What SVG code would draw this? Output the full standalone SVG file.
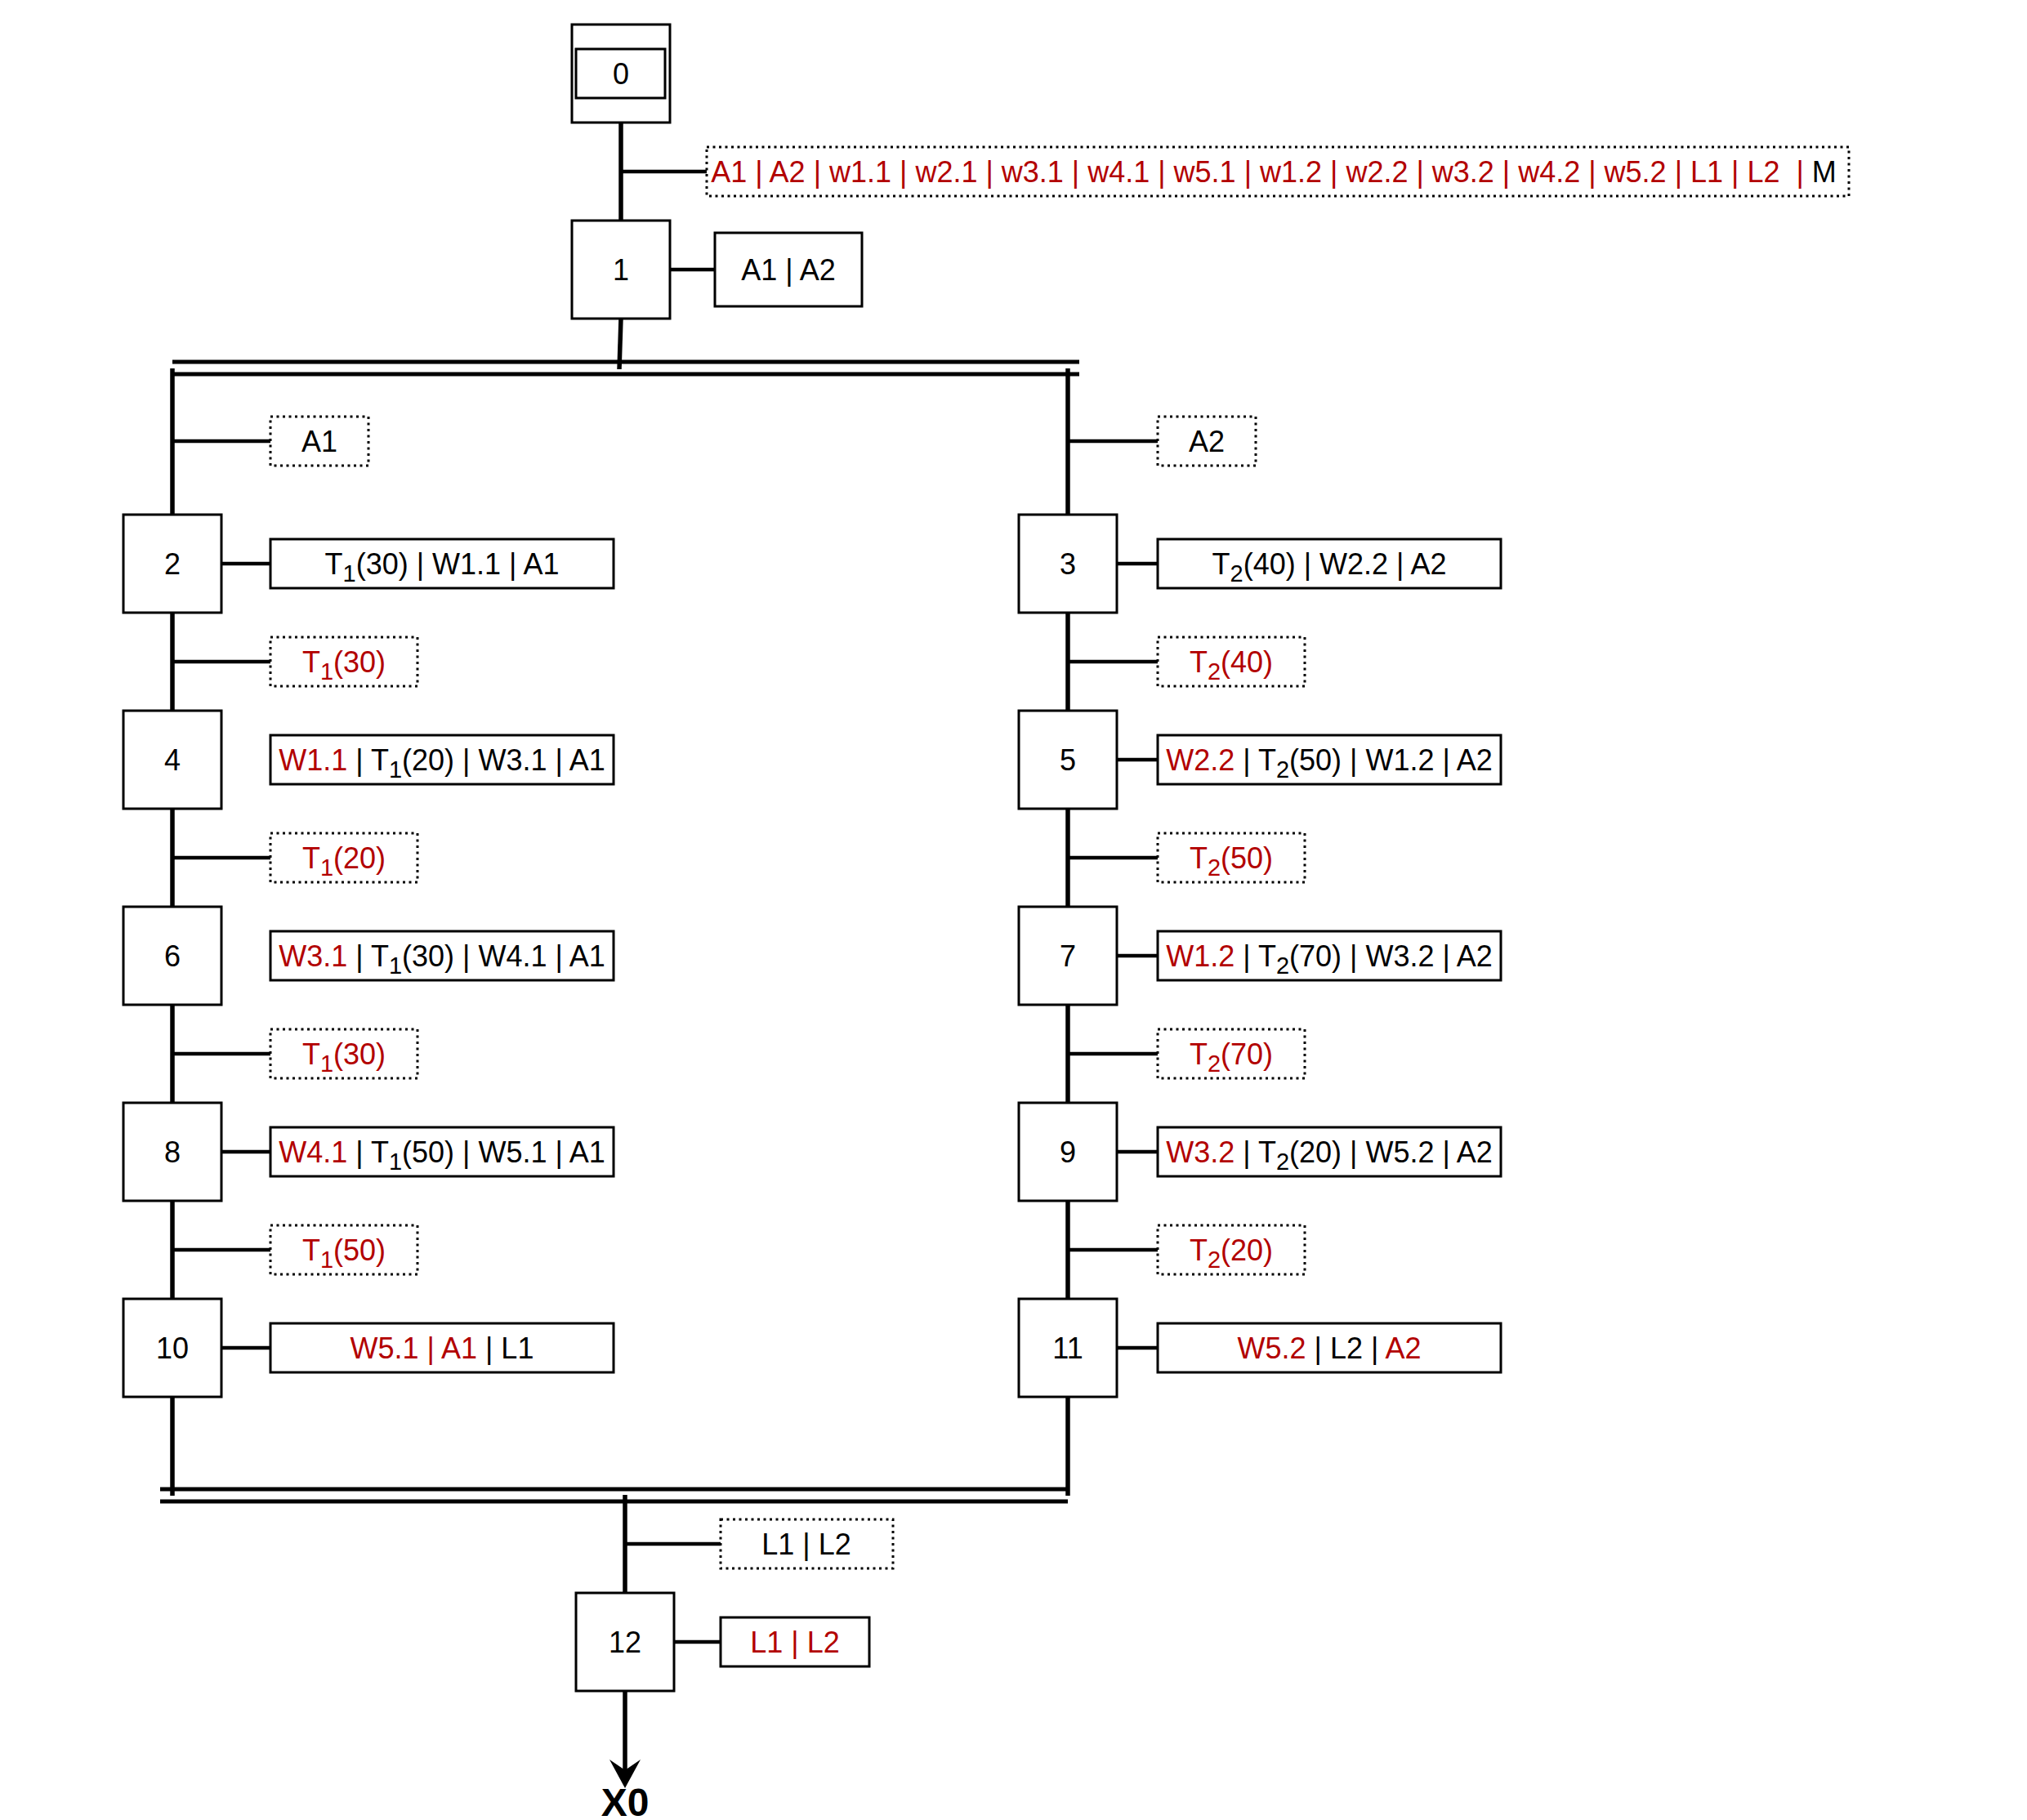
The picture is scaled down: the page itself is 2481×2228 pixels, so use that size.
<svg xmlns="http://www.w3.org/2000/svg" width="2481" height="2228" viewBox="0 0 2481 2228">
<defs>
<style>
text{font-family:"Liberation Sans",Arial,Helvetica,sans-serif;font-size:36px;fill:#000;}
.r{fill:#B20000;}
.step,.act{fill:#fff;stroke:#000;stroke-width:3;}
.cond{fill:#fff;stroke:#000;stroke-width:3;stroke-dasharray:3 4.5;}
.wire{stroke:#000;stroke-width:5.5;fill:none;}
.tick{stroke:#000;stroke-width:4.5;fill:none;}
.bar{stroke:#000;stroke-width:5;fill:none;}
.x0{font-weight:bold;font-size:48px;}
</style>
<marker id="arr" markerUnits="userSpaceOnUse" viewBox="-16 -20 38 40" refX="0" refY="0" markerWidth="38" markerHeight="40" orient="auto">
<path d="M21,0 L-14,-19 L-1,0 L-14,19 Z" fill="#000"/>
</marker>
</defs>
<rect width="2481" height="2228" fill="#fff"/>

<g id="connectors">
<line class="wire" x1="760" y1="150" x2="760" y2="270"/>
<line class="tick" x1="760" y1="210" x2="865" y2="210"/>
<line class="tick" x1="820" y1="330" x2="875" y2="330"/>
<line class="wire" x1="760" y1="390" x2="758" y2="452"/>
<line class="bar" x1="211" y1="443" x2="1321" y2="443"/>
<line class="bar" x1="211" y1="458" x2="1321" y2="458"/>
<line class="wire" x1="211" y1="451" x2="211" y2="630"/>
<line class="wire" x1="1307" y1="451" x2="1307" y2="630"/>
<line class="tick" x1="211" y1="540" x2="331" y2="540"/>
<line class="tick" x1="1307" y1="540" x2="1417" y2="540"/>
<line class="wire" x1="211" y1="750" x2="211" y2="870"/>
<line class="wire" x1="211" y1="990" x2="211" y2="1110"/>
<line class="wire" x1="211" y1="1230" x2="211" y2="1350"/>
<line class="wire" x1="211" y1="1470" x2="211" y2="1590"/>
<line class="wire" x1="211" y1="1710" x2="211" y2="1831"/>
<line class="wire" x1="1307" y1="750" x2="1307" y2="870"/>
<line class="wire" x1="1307" y1="990" x2="1307" y2="1110"/>
<line class="wire" x1="1307" y1="1230" x2="1307" y2="1350"/>
<line class="wire" x1="1307" y1="1470" x2="1307" y2="1590"/>
<line class="wire" x1="1307" y1="1710" x2="1307" y2="1831"/>
<line class="tick" x1="211" y1="810" x2="331" y2="810"/>
<line class="tick" x1="211" y1="1050" x2="331" y2="1050"/>
<line class="tick" x1="211" y1="1290" x2="331" y2="1290"/>
<line class="tick" x1="211" y1="1530" x2="331" y2="1530"/>
<line class="tick" x1="1307" y1="810" x2="1417" y2="810"/>
<line class="tick" x1="1307" y1="1050" x2="1417" y2="1050"/>
<line class="tick" x1="1307" y1="1290" x2="1417" y2="1290"/>
<line class="tick" x1="1307" y1="1530" x2="1417" y2="1530"/>
<line class="tick" x1="271" y1="690" x2="331" y2="690"/>
<line class="tick" x1="271" y1="1410" x2="331" y2="1410"/>
<line class="tick" x1="271" y1="1650" x2="331" y2="1650"/>
<line class="tick" x1="1367" y1="690" x2="1417" y2="690"/>
<line class="tick" x1="1367" y1="930" x2="1417" y2="930"/>
<line class="tick" x1="1367" y1="1170" x2="1417" y2="1170"/>
<line class="tick" x1="1367" y1="1410" x2="1417" y2="1410"/>
<line class="tick" x1="1367" y1="1650" x2="1417" y2="1650"/>
<line class="bar" x1="196" y1="1823" x2="1307" y2="1823"/>
<line class="bar" x1="196" y1="1838" x2="1307" y2="1838"/>
<line class="wire" x1="765" y1="1830" x2="765" y2="1950"/>
<line class="tick" x1="765" y1="1890" x2="882" y2="1890"/>
<line class="tick" x1="825" y1="2010" x2="882" y2="2010"/>
<line class="wire" x1="765" y1="2070" x2="765" y2="2168" marker-end="url(#arr)"/>
</g>

<g id="step0">
<rect class="step" x="700" y="30" width="120" height="120"/>
<rect class="step" x="705" y="60" width="109" height="60"/>
<text x="760" y="103" text-anchor="middle">0</text>
</g>
<g id="cond01">
<rect class="cond" x="865" y="180" width="1398" height="60"/>
<text x="1559" y="223" text-anchor="middle" xml:space="preserve"><tspan class="r">A1 | A2 | w1.1 | w2.1 | w3.1 | w4.1 | w5.1 | w1.2 | w2.2 | w3.2 | w4.2 | w5.2 | L1 | L2  | </tspan>M</text>
</g>
<g id="step1">
<rect class="step" x="700" y="270" width="120" height="120"/>
<text x="760" y="343" text-anchor="middle">1</text>
</g>
<g id="act1">
<rect class="act" x="875" y="285" width="180" height="90"/>
<text x="965" y="343" text-anchor="middle">A1 | A2</text>
</g>

<g id="condA1">
<rect class="cond" x="331" y="510" width="120" height="60"/>
<text x="391" y="553" text-anchor="middle">A1</text>
</g>
<g id="condA2">
<rect class="cond" x="1417" y="510" width="120" height="60"/>
<text x="1477" y="553" text-anchor="middle">A2</text>
</g>

<g id="step2">
<rect class="step" x="151" y="630" width="120" height="120"/>
<text x="211" y="703" text-anchor="middle">2</text>
</g>
<g id="act2">
<rect class="act" x="331" y="660" width="420" height="60"/>
<text x="541" y="703" text-anchor="middle">T<tspan font-size="29" dy="9">1</tspan><tspan dy="-9">(30) | W1.1 | A1</tspan></text>
</g>
<g id="cond2">
<rect class="cond" x="331" y="780" width="180" height="60"/>
<text class="r" x="421" y="823" text-anchor="middle">T<tspan font-size="29" dy="9">1</tspan><tspan dy="-9">(30)</tspan></text>
</g>
<g id="step4">
<rect class="step" x="151" y="870" width="120" height="120"/>
<text x="211" y="943" text-anchor="middle">4</text>
</g>
<g id="act4">
<rect class="act" x="331" y="900" width="420" height="60"/>
<text x="541" y="943" text-anchor="middle"><tspan class="r">W1.1</tspan> | T<tspan font-size="29" dy="9">1</tspan><tspan dy="-9">(20) | W3.1 | A1</tspan></text>
</g>
<g id="cond4">
<rect class="cond" x="331" y="1020" width="180" height="60"/>
<text class="r" x="421" y="1063" text-anchor="middle">T<tspan font-size="29" dy="9">1</tspan><tspan dy="-9">(20)</tspan></text>
</g>
<g id="step6">
<rect class="step" x="151" y="1110" width="120" height="120"/>
<text x="211" y="1183" text-anchor="middle">6</text>
</g>
<g id="act6">
<rect class="act" x="331" y="1140" width="420" height="60"/>
<text x="541" y="1183" text-anchor="middle"><tspan class="r">W3.1</tspan> | T<tspan font-size="29" dy="9">1</tspan><tspan dy="-9">(30) | W4.1 | A1</tspan></text>
</g>
<g id="cond6">
<rect class="cond" x="331" y="1260" width="180" height="60"/>
<text class="r" x="421" y="1303" text-anchor="middle">T<tspan font-size="29" dy="9">1</tspan><tspan dy="-9">(30)</tspan></text>
</g>
<g id="step8">
<rect class="step" x="151" y="1350" width="120" height="120"/>
<text x="211" y="1423" text-anchor="middle">8</text>
</g>
<g id="act8">
<rect class="act" x="331" y="1380" width="420" height="60"/>
<text x="541" y="1423" text-anchor="middle"><tspan class="r">W4.1</tspan> | T<tspan font-size="29" dy="9">1</tspan><tspan dy="-9">(50) | W5.1 | A1</tspan></text>
</g>
<g id="cond8">
<rect class="cond" x="331" y="1500" width="180" height="60"/>
<text class="r" x="421" y="1543" text-anchor="middle">T<tspan font-size="29" dy="9">1</tspan><tspan dy="-9">(50)</tspan></text>
</g>
<g id="step10">
<rect class="step" x="151" y="1590" width="120" height="120"/>
<text x="211" y="1663" text-anchor="middle">10</text>
</g>
<g id="act10">
<rect class="act" x="331" y="1620" width="420" height="60"/>
<text x="541" y="1663" text-anchor="middle"><tspan class="r">W5.1 | A1</tspan> | L1</text>
</g>

<g id="step3">
<rect class="step" x="1247" y="630" width="120" height="120"/>
<text x="1307" y="703" text-anchor="middle">3</text>
</g>
<g id="act3">
<rect class="act" x="1417" y="660" width="420" height="60"/>
<text x="1627" y="703" text-anchor="middle">T<tspan font-size="29" dy="9">2</tspan><tspan dy="-9">(40) | W2.2 | A2</tspan></text>
</g>
<g id="cond3">
<rect class="cond" x="1417" y="780" width="180" height="60"/>
<text class="r" x="1507" y="823" text-anchor="middle">T<tspan font-size="29" dy="9">2</tspan><tspan dy="-9">(40)</tspan></text>
</g>
<g id="step5">
<rect class="step" x="1247" y="870" width="120" height="120"/>
<text x="1307" y="943" text-anchor="middle">5</text>
</g>
<g id="act5">
<rect class="act" x="1417" y="900" width="420" height="60"/>
<text x="1627" y="943" text-anchor="middle"><tspan class="r">W2.2</tspan> | T<tspan font-size="29" dy="9">2</tspan><tspan dy="-9">(50) | W1.2 | A2</tspan></text>
</g>
<g id="cond5">
<rect class="cond" x="1417" y="1020" width="180" height="60"/>
<text class="r" x="1507" y="1063" text-anchor="middle">T<tspan font-size="29" dy="9">2</tspan><tspan dy="-9">(50)</tspan></text>
</g>
<g id="step7">
<rect class="step" x="1247" y="1110" width="120" height="120"/>
<text x="1307" y="1183" text-anchor="middle">7</text>
</g>
<g id="act7">
<rect class="act" x="1417" y="1140" width="420" height="60"/>
<text x="1627" y="1183" text-anchor="middle"><tspan class="r">W1.2</tspan> | T<tspan font-size="29" dy="9">2</tspan><tspan dy="-9">(70) | W3.2 | A2</tspan></text>
</g>
<g id="cond7">
<rect class="cond" x="1417" y="1260" width="180" height="60"/>
<text class="r" x="1507" y="1303" text-anchor="middle">T<tspan font-size="29" dy="9">2</tspan><tspan dy="-9">(70)</tspan></text>
</g>
<g id="step9">
<rect class="step" x="1247" y="1350" width="120" height="120"/>
<text x="1307" y="1423" text-anchor="middle">9</text>
</g>
<g id="act9">
<rect class="act" x="1417" y="1380" width="420" height="60"/>
<text x="1627" y="1423" text-anchor="middle"><tspan class="r">W3.2</tspan> | T<tspan font-size="29" dy="9">2</tspan><tspan dy="-9">(20) | W5.2 | A2</tspan></text>
</g>
<g id="cond9">
<rect class="cond" x="1417" y="1500" width="180" height="60"/>
<text class="r" x="1507" y="1543" text-anchor="middle">T<tspan font-size="29" dy="9">2</tspan><tspan dy="-9">(20)</tspan></text>
</g>
<g id="step11">
<rect class="step" x="1247" y="1590" width="120" height="120"/>
<text x="1307" y="1663" text-anchor="middle">11</text>
</g>
<g id="act11">
<rect class="act" x="1417" y="1620" width="420" height="60"/>
<text x="1627" y="1663" text-anchor="middle"><tspan class="r">W5.2</tspan> | L2 | <tspan class="r">A2</tspan></text>
</g>

<g id="cond12">
<rect class="cond" x="882" y="1860" width="211" height="60"/>
<text x="987" y="1903" text-anchor="middle">L1 | L2</text>
</g>
<g id="step12">
<rect class="step" x="705" y="1950" width="120" height="120"/>
<text x="765" y="2023" text-anchor="middle">12</text>
</g>
<g id="act12">
<rect class="act" x="882" y="1980" width="182" height="60"/>
<text class="r" x="973" y="2023" text-anchor="middle">L1 | L2</text>
</g>
<g id="x0label">
<text class="x0" x="765" y="2223" text-anchor="middle">X0</text>
</g>
</svg>
